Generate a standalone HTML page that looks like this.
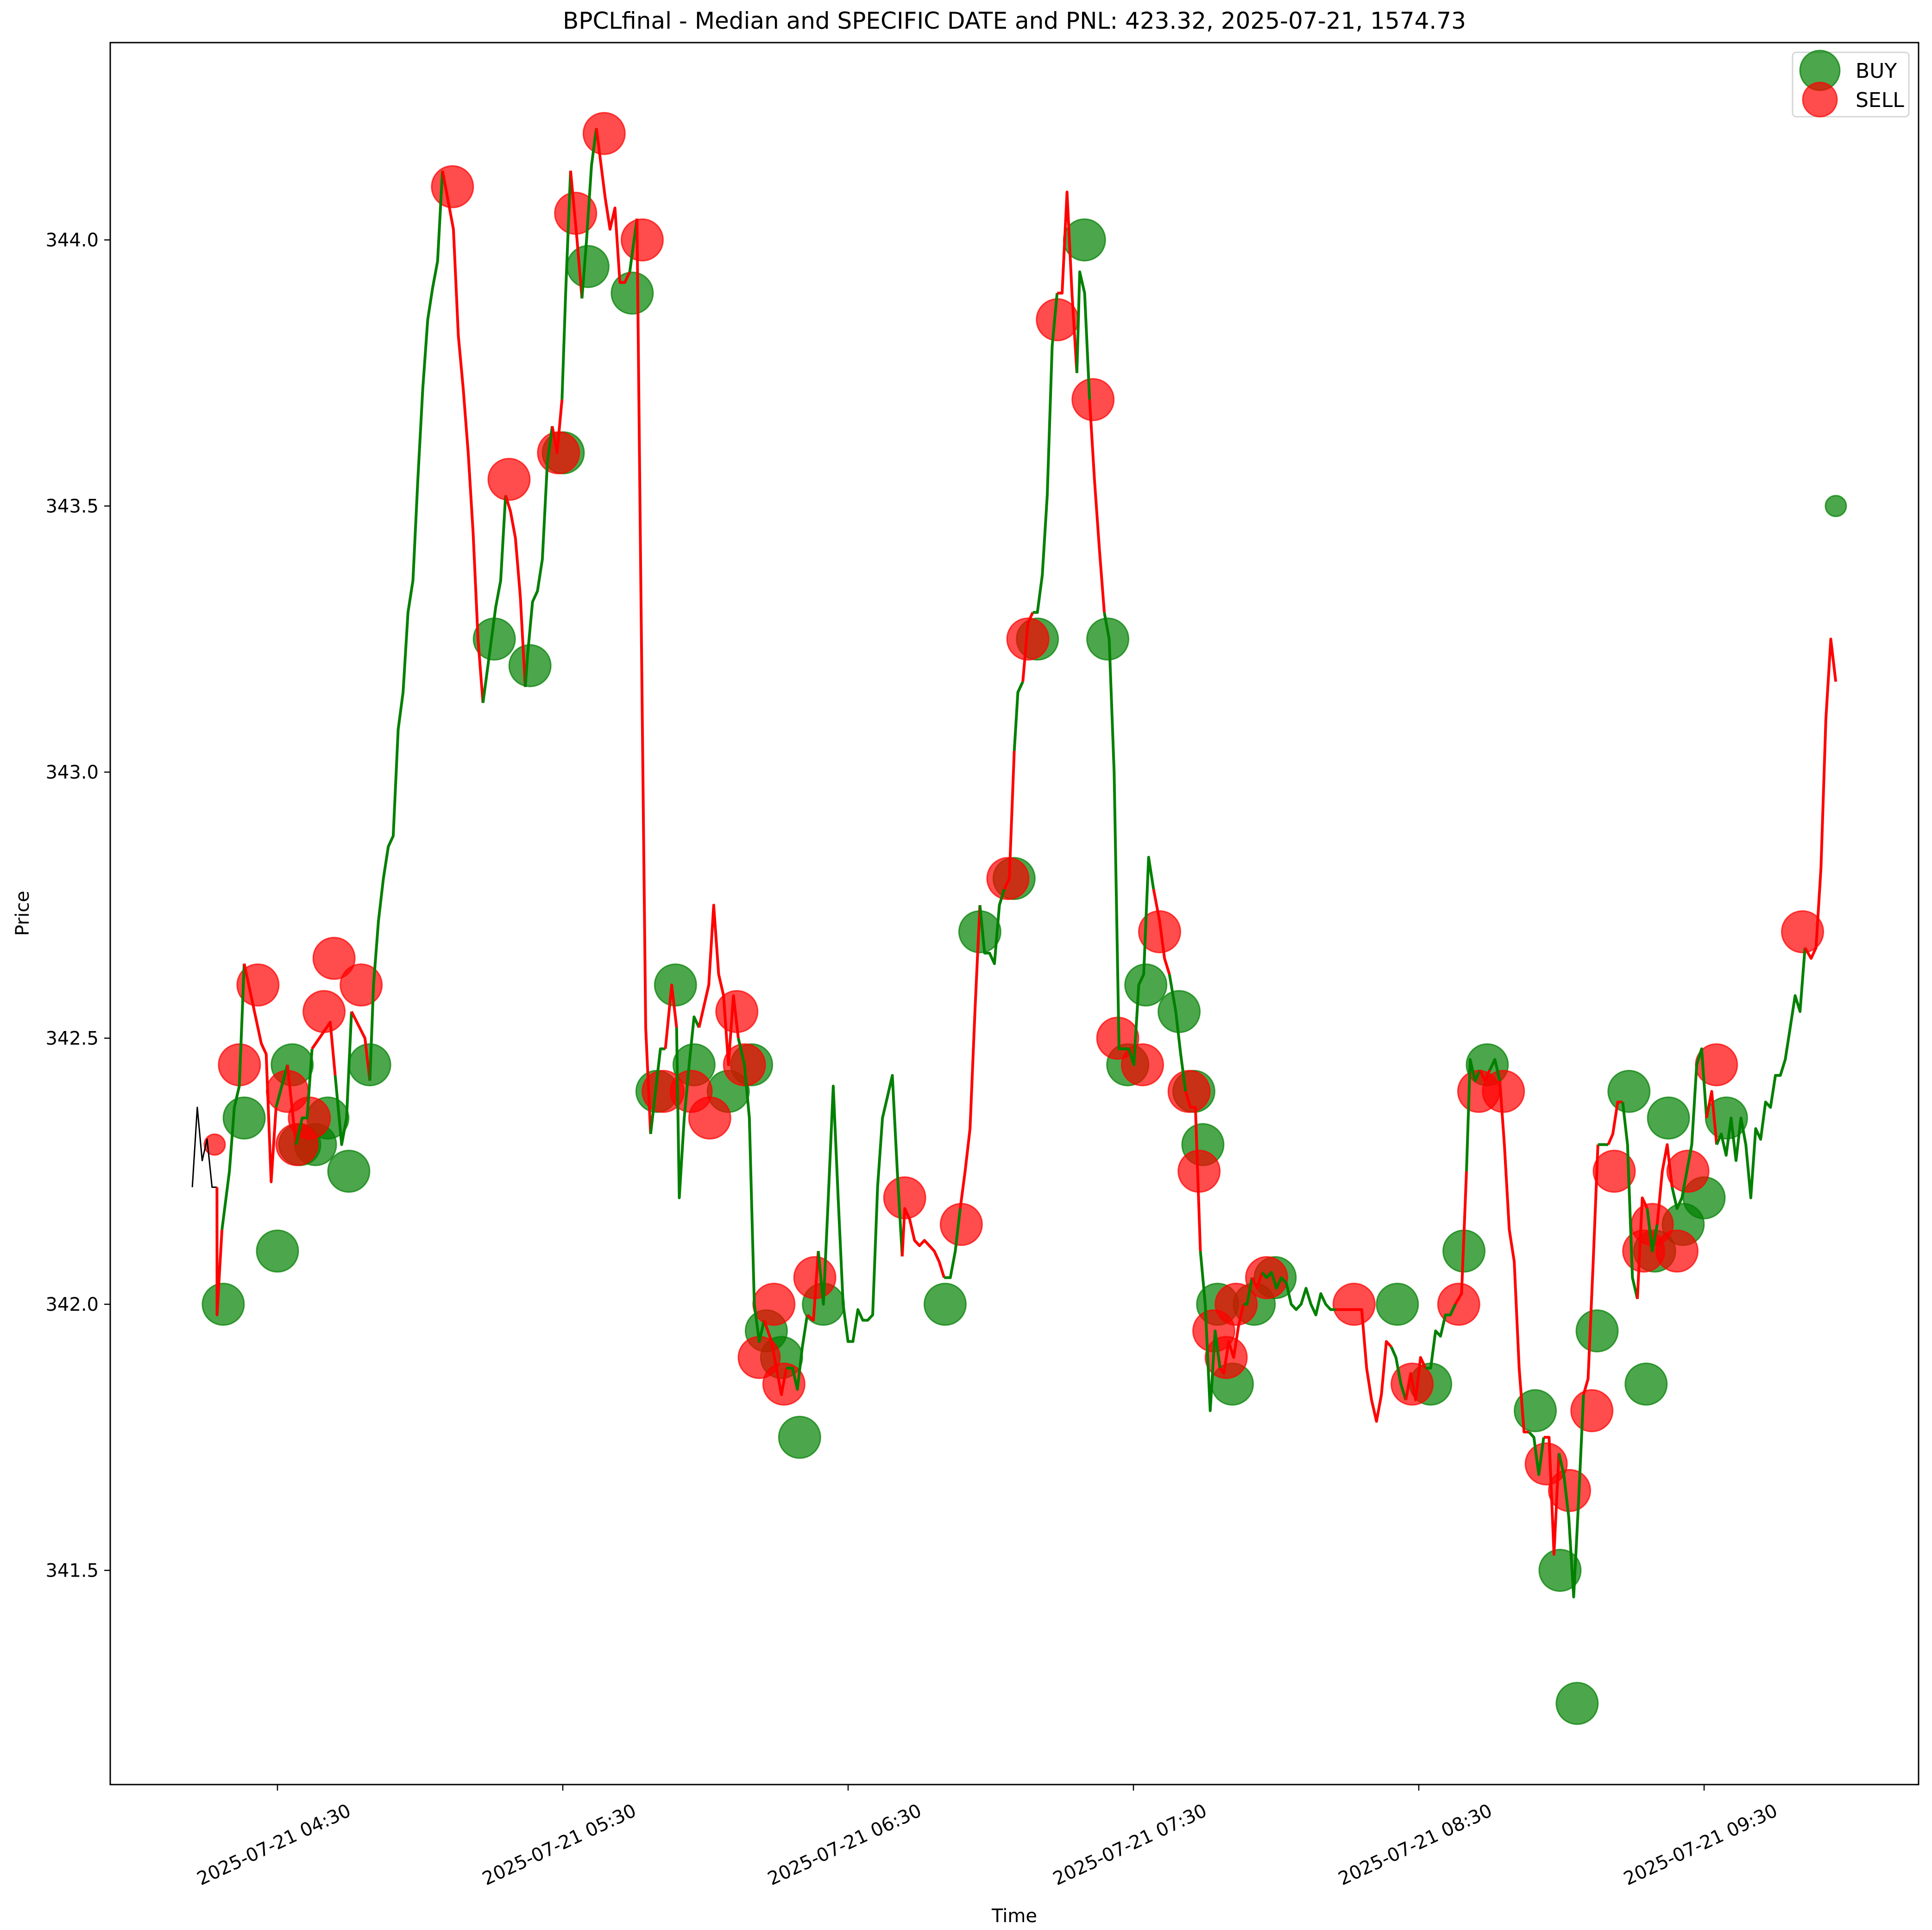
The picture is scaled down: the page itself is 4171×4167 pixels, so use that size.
<!DOCTYPE html>
<html><head><meta charset="utf-8"><style>
html,body{margin:0;padding:0;background:#fff;}
svg{display:block;font-family:"DejaVu Sans","Liberation Sans",sans-serif;}
</style></head><body>
<svg id="chart" width="4171" height="4167" viewBox="0 0 4171 4167" xmlns="http://www.w3.org/2000/svg">
<rect width="4171" height="4167" fill="#fff"/>
<text x="2190" y="62" font-size="50" text-anchor="middle">BPCLfinal - Median and SPECIFIC DATE and PNL: 423.32, 2025-07-21, 1574.73</text>
<g id="marks"></g>
<g id="lines"></g>
<g id="axes"></g>
<rect x="238" y="92" width="3904" height="3761" fill="none" stroke="#000" stroke-width="3"/>
<text x="2190" y="4150" font-size="40" text-anchor="middle">Time</text>
<text x="0" y="0" font-size="40" text-anchor="middle" transform="translate(62,1972) rotate(-90)">Price</text>
<g>
<rect x="3870" y="113" width="251" height="139" rx="8" fill="#fff" fill-opacity="0.8" stroke="#d6d6d6" stroke-width="3"/>
<g>
<circle cx="3929" cy="152" r="43" fill="#008000" fill-opacity="0.7" stroke="#008000" stroke-opacity="0.7" stroke-width="3"/>
<text x="4006" y="168" font-size="44">BUY</text></g>
<g>
<circle cx="3929" cy="215" r="37" fill="#ff0000" fill-opacity="0.7" stroke="#ff0000" stroke-opacity="0.7" stroke-width="3"/>
<text x="4006" y="231" font-size="44">SELL</text></g>
</g>
</svg>
<script>
// minutes relative to 04:30
const xTickMinutes = [0, 60, 120, 180, 240, 300];
const xTickLabels = ["2025-07-21 04:30","2025-07-21 05:30","2025-07-21 06:30","2025-07-21 07:30","2025-07-21 08:30","2025-07-21 09:30"];
const yTicks = [341.5, 342.0, 342.5, 343.0, 343.5, 344.0];
const yTickLabels = ["341.5","342.0","342.5","343.0","343.5","344.0"];
const sampleStepMin = 1.036;
const runStartMin = [-17.9,-12.7,-10.1,-3.4,2.1,3.9,5.2,11.1,13.5,18.4,20.2,37.0,45.9,49.0,52.6,58.8,60.6,63.0,65.0,68.9,75.6,76.4,79.5,82.9,84.5,90.7,98.2,103.9,108.3,112.7,114.8,131.9,141.5,144.6,148.7,153.9,155.7,157.8,159.8,165.0,168.7,171.8,174.9,185.5,188.9,192.0,195.1,199.0,203.9,206.0,208.0,228.0,235.2,238.3,242.5,249.0,250.8,253.9,256.0,258.0,264.2,267.4,270.5,275.6,278.8,280.8,283.9,287.0,289.1,291.2,294.3,301.6,303.6,322.5];
const priceRuns = [
[342.22,342.37,342.27,342.31,342.22,342.22],
[341.98,342.14],
[342.25,342.37,342.41,342.64],
[342.49,342.47,342.23,342.37],
[342.45],
[342.30],
[342.35,342.35,342.48],
[342.53,342.43],
[342.30,342.35,342.55],
[342.50,342.42],
[342.60,342.72,342.80,342.86,342.88,343.08,343.15,343.30,343.36,343.55,343.72,343.85,343.91,343.96,344.13],
[344.02,343.82,343.72,343.60,343.45,343.25,343.13],
[343.31,343.36,343.52],
[343.49,343.44,343.33,343.16],
[343.22,343.32,343.34,343.40,343.58,343.65],
[343.60,343.70],
[343.90,344.13],
[344.00,343.89],
[344.00,344.14,344.21],
[344.08,344.02,344.06,343.92,343.92,343.94],
[344.04],
[343.36,342.52,342.32],
[342.40,342.48,342.48],
[342.60,342.52],
[342.20,342.35,342.45,342.54,342.52],
[342.60,342.75,342.62,342.58,342.45,342.58,342.50],
[342.45,342.35,342.00,341.93,341.97],
[341.93,341.88,341.83,341.88],
[341.88,341.84,341.92,341.98],
[341.97,342.10],
[342.00,342.20,342.41,342.20,342.00,341.93,341.93,341.99,341.97,341.97,341.98,342.22,342.35,342.39,342.43,342.25,342.09],
[342.18,342.16,342.12,342.11,342.12,342.11,342.10,342.08,342.05],
[342.05,342.10,342.18],
[342.25,342.33,342.55,342.75],
[342.66,342.66,342.64,342.75,342.78],
[342.80,343.04],
[343.15,343.17],
[343.28,343.30],
[343.30,343.37,343.52,343.80,343.90],
[343.90,344.09,343.90,343.75],
[343.94,343.90,343.70],
[343.55,343.42,343.30],
[343.25,343.00,342.48,342.48,342.48,342.45,342.60,342.62,342.84,342.78],
[342.72,342.65,342.62],
[342.55,342.47,342.40],
[342.37,342.37,342.10],
[342.00,341.80,341.95,341.88],
[341.87,341.93,341.90,341.96,342.00],
[342.00,342.05],
[342.03,342.06],
[342.05,342.06,342.03,342.05,342.04,342.00,341.99,342.00,342.03,342.00,341.98,342.02,342.00,341.99,341.99],
[341.99,341.88,341.82,341.78,341.83,341.93,341.92],
[341.90,341.85,341.82],
[341.87,341.82,341.90,341.88],
[341.88,341.95,341.94,341.98,341.98,342.00],
[342.02,342.25],
[342.46,342.42,342.44],
[342.42,342.44],
[342.46,342.42],
[342.30,342.14,342.08,341.88,341.76,341.76],
[341.75,341.68,341.75],
[341.75,341.53,341.72],
[341.68,341.60,341.45,341.63,341.83],
[341.86,342.07,342.30],
[342.30,342.30],
[342.32,342.38,342.38],
[342.30,342.05,342.01],
[342.20,342.18],
[342.10,342.15],
[342.25,342.30,342.22],
[342.18,342.20,342.25,342.30,342.45,342.48,342.35],
[342.40,342.30],
[342.32,342.28,342.35,342.27,342.35,342.30,342.20,342.33,342.31,342.38,342.37,342.43,342.43,342.46,342.52,342.58,342.55,342.67],
[342.65,342.67,342.82,343.10,343.25,343.17]
];
const buyTimes = [-11.4,-7.0,0,3.1,4.7,8.0,10.6,15.0,19.4,45.6,53.1,60.1,65.3,74.6,79.8,83.7,87.6,94.8,99.7,102.8,106.0,109.8,114.8,140.4,147.7,154.9,159.8,169.7,174.6,178.8,182.6,189.6,192.7,194.6,197.7,200.8,205.4,209.8,235.5,242.5,249.5,254.4,264.5,269.7,273.3,277.5,284.2,287.8,289.6,292.5,295.6,300.0,304.7,327.7];
const buyPrices = [342.0,342.35,342.1,342.45,342.3,342.3,342.35,342.25,342.45,343.25,343.2,343.6,343.95,343.9,342.4,342.6,342.45,342.4,342.45,341.95,341.9,341.75,342.0,342.0,342.7,342.8,343.25,344.0,343.25,342.45,342.6,342.55,342.4,342.3,342.0,341.85,342.0,342.05,342.0,341.85,342.1,342.45,341.8,341.5,341.25,341.95,342.4,341.85,342.1,342.35,342.15,342.2,342.35,343.5];
const buySizes = [1,1,1,1,1,1,1,1,1,1,1,1,1,1,1,1,1,1,1,1,1,1,1,1,1,1,1,1,1,1,1,1,1,1,1,1,1,1,1,1,1,1,1,1,1,1,1,1,1,1,1,1,1,0.5];
const sellTimes = [-13.2,-8.0,-4.1,2.1,4.1,6.7,9.8,11.9,17.6,36.8,48.7,59.1,62.7,68.7,76.7,81.1,87.0,90.9,96.6,98.2,101.3,104.4,106.5,113.0,131.9,143.8,153.6,157.8,164.0,171.5,176.7,181.9,185.5,191.7,193.8,196.9,199.5,201.6,208.0,226.4,238.6,248.4,252.6,257.8,266.8,271.7,276.4,281.1,287.3,289.1,294.3,296.6,302.6,320.7];
const sellPrices = [342.3,342.45,342.6,342.4,342.3,342.35,342.55,342.65,342.6,344.1,343.55,343.6,344.05,344.2,344.0,342.4,342.4,342.35,342.55,342.45,341.9,342.0,341.85,342.05,342.2,342.15,342.8,343.25,343.85,343.7,342.5,342.45,342.7,342.4,342.25,341.95,341.9,342.0,342.05,342.0,341.85,342.0,342.4,342.4,341.7,341.65,341.8,342.25,342.1,342.15,342.1,342.25,342.45,342.7];
const sellSizes = [0.5,1,1,1,1,1,1,1,1,1,1,1,1,1,1,1,1,1,1,1,1,1,1,1,1,1,1,1,1,1,1,1,1,1,1,1,1,1,1,1,1,1,1,1,1,1,1,1,1,1,1,1,1,1];

const NS = "http://www.w3.org/2000/svg";
const X0 = 599, PXMIN = 616/60;
const Y0 = 518, PXUNIT = 1149;
function xScale(m){ return X0 + m*PXMIN; }
function yScale(p){ return Y0 + (344 - p)*PXUNIT; }
function mk(tag, attrs, parent){ const e=document.createElementNS(NS,tag); for(const k in attrs) e.setAttribute(k,attrs[k]); parent.appendChild(e); return e; }

const axes = document.getElementById('axes');
xTickMinutes.forEach((m,i)=>{
  const x = xScale(m);
  const t = mk('line',{x1:x,x2:x,y1:3853,y2:3866,stroke:'#000','stroke-width':2.5},axes);
  
  
  const lb = mk('text',{x:0,y:0,'font-size':40,'text-anchor':'middle',transform:`translate(${x-2},${3995}) rotate(-25)`},axes);
  lb.textContent = xTickLabels[i];
  
  
});
yTicks.forEach((p,i)=>{
  const y = yScale(p);
  const t = mk('line',{x1:225,x2:238,y1:y,y2:y,stroke:'#000','stroke-width':2.5},axes);
  
  
  const lb = mk('text',{x:213,y:y+14,'font-size':40,'text-anchor':'end'},axes);
  lb.textContent = yTickLabels[i];
  
  
});

const marks = document.getElementById('marks');
buyTimes.forEach((m,i)=>{
  const c = mk('circle',{cx:xScale(m),cy:yScale(buyPrices[i]),r:45*buySizes[i],fill:'#008000','fill-opacity':0.7,stroke:'#008000','stroke-opacity':0.7,'stroke-width':3},marks);
  
  
});
sellTimes.forEach((m,i)=>{
  const c = mk('circle',{cx:xScale(m),cy:yScale(sellPrices[i]),r:45*sellSizes[i],fill:'#ff0000','fill-opacity':0.7,stroke:'#ff0000','stroke-opacity':0.7,'stroke-width':3},marks);
  
  
});

const lines = document.getElementById('lines');
const colorMap = {k:'#000',r:'#ff0000',g:'#008000'};
let prev = null;
priceRuns.forEach((run,ri)=>{
  const col = ri===0 ? 'k' : (ri%2===1 ? 'r' : 'g');
  const start = runStartMin[Math.min(ri, runStartMin.length-1)];
  const pts = [];
  if(prev) pts.push(prev);
  run.forEach((p,j)=>{ const pt=[xScale(start + j*sampleStepMin), yScale(p)]; pts.push(pt); prev=pt; });
  const pl = mk('polyline',{points:pts.map(q=>q[0].toFixed(1)+','+q[1].toFixed(1)).join(' '),fill:'none',stroke:colorMap[col],'stroke-width':col==='k'?3:6,'stroke-linejoin':'round'},lines);
  
  
});
</script>
</body></html>
